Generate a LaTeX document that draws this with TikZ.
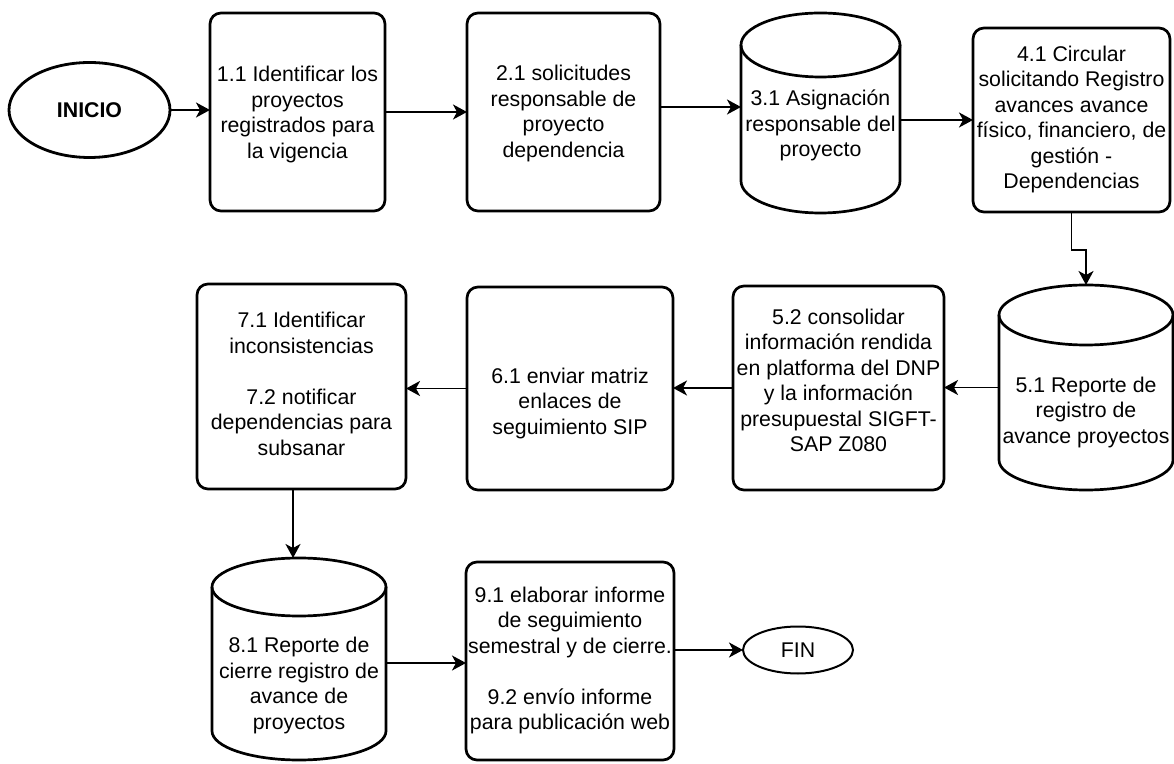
\documentclass[tikz,border=0pt]{standalone}
\usepackage{fontspec}
\setmainfont{Liberation Sans}
\usetikzlibrary{arrows.meta,shapes.geometric}
\newcommand\ntext[2]{\raisebox{-#1pt}[\height][\depth]{\begin{tabular}{@{}c@{}}#2\end{tabular}}}
\newcommand\cylshape[3]{%
  \draw[cylline] ([yshift=-#3pt]#1.north west) -- ([yshift=#3pt]#1.south west)
    arc[start angle=180,end angle=360,x radius=#2pt,y radius=#3pt]
    -- ([yshift=-#3pt]#1.north east);
  \draw[cylline] ([yshift=-#3pt]#1.north) ellipse[x radius=#2pt,y radius=#3pt];}
\tikzset{
  base/.style={font=\fontsize{21.3pt}{25.5pt}\selectfont, inner sep=0pt, outer sep=0pt},
  procbox/.style={base, rectangle, draw, line width=2.7pt, rounded corners=11pt},
  cylnode/.style={base, rectangle},
  cylline/.style={line width=2.7pt},
  term/.style={base, ellipse, draw},
  arr/.style={line width=1.8pt, -{Stealth[length=14pt,width=15pt,inset=4pt]}},
}
\begin{document}
\begin{tikzpicture}[x=1pt,y=1pt]
\useasboundingbox (0,0) rectangle (1174,763);
% row 1
\node[term, line width=2.8pt, minimum width=161pt, minimum height=95pt, font=\fontsize{21.3pt}{25.5pt}\selectfont\bfseries] (inicio) at (89.5,653) {INICIO};
\node[procbox, minimum width=175pt, minimum height=198pt] (n11) at (297.5,651)
  {\ntext{3}{1.1 Identificar los\\proyectos\\registrados para\\la vigencia}};
\node[procbox, minimum width=193pt, minimum height=198pt] (n21) at (563.5,651)
  {\ntext{2}{2.1 solicitudes\\responsable de\\proyecto\\dependencia}};
\node[cylnode, minimum width=159pt, minimum height=200pt] (n31) at (820.5,650)
  {\ntext{13}{3.1 Asignación\\responsable del\\proyecto}};
\cylshape{n31}{79.5}{32}
\node[procbox, minimum width=197pt, minimum height=184pt] (n41) at (1071.5,643)
  {\ntext{0}{4.1 Circular\\solicitando Registro\\avances avance\\físico, financiero, de\\gestión -\\Dependencias}};
% row 2
\node[cylnode, minimum width=174pt, minimum height=205pt] (n51) at (1086,375.5)
  {\ntext{25}{5.1 Reporte de\\registro de\\avance proyectos}};
\cylshape{n51}{87}{30}
\node[procbox, minimum width=211pt, minimum height=204pt] (n52) at (838.5,375)
  {\ntext{-5}{5.2 consolidar\\información rendida\\en platforma del DNP\\y la información\\presupuestal SIGFT-\\SAP Z080}};
\node[procbox, minimum width=206pt, minimum height=203pt] (n61) at (570,374.5)
  {\ntext{15}{6.1 enviar matriz\\enlaces de\\seguimiento SIP}};
\node[procbox, minimum width=209pt, minimum height=205pt] (n71) at (301.5,376.5)
  {\ntext{0}{7.1 Identificar\\inconsistencias\\[25.5pt]7.2 notificar\\dependencias para\\subsanar}};
% row 3
\node[cylnode, minimum width=174pt, minimum height=202pt] (n81) at (299,104)
  {\ntext{27}{8.1 Reporte de\\cierre registro de\\avance de\\proyectos}};
\cylshape{n81}{87}{29}
\node[procbox, minimum width=208pt, minimum height=198pt] (n91) at (570,102)
  {\ntext{0}{9.1 elaborar informe\\de seguimiento\\semestral y de cierre.\\[25.5pt]9.2 envío informe\\para publicación web}};
\node[term, line width=2pt, minimum width=110pt, minimum height=47pt] (fin) at (798,113) {FIN};
% helper coordinates
\coordinate (a23) at (0,656);
\coordinate (b45) at (1080,513);
\coordinate (v78) at (293,0);
\coordinate (h89) at (0,100);
% connectors
\draw[arr] (inicio.east) -- (inicio.east -| n11.west);
\draw[arr] (n11.east) -- (n21.west);
\draw[arr] (n21.east |- a23) -- (n31.west |- a23);
\draw[arr] (n31.east |- n41.west) -- (n41.west);
\draw[arr] (n41.south) |- (b45) -| (n51.north);
\draw[arr] (n51.west) -- (n51.west -| n52.east);
\draw[arr] (n52.west) -- (n52.west -| n61.east);
\draw[arr] (n61.west) -- (n61.west -| n71.east);
\draw[arr] (n71.south -| v78) -- (n81.north -| v78);
\draw[arr] (n81.east |- h89) -- (n91.west |- h89);
\draw[arr] (n91.east |- fin.west) -- (fin.west);
\end{tikzpicture}
\end{document}
